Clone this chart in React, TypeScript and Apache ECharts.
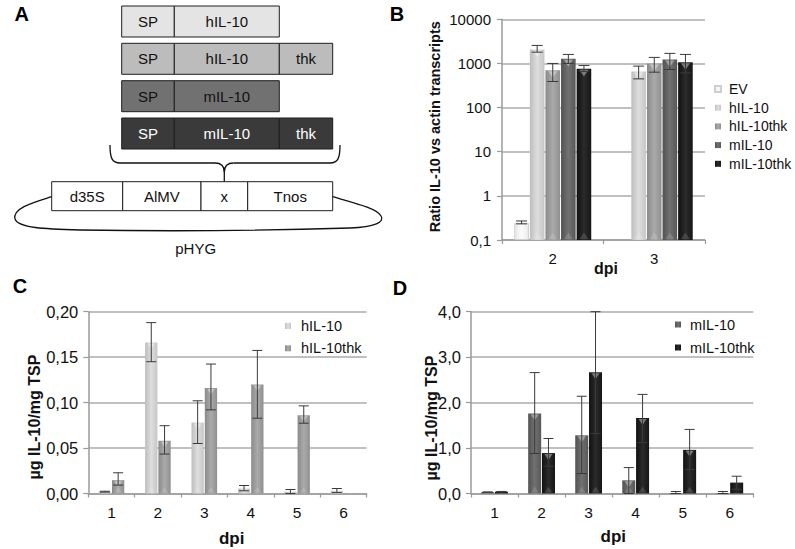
import React, { useEffect, useRef } from "react";
import * as echarts from "echarts";

// ---------- Data ----------
const seriesNamesB = ["EV", "hIL-10", "hIL-10thk", "mIL-10", "mIL-10thk"];
const categoriesB = ["2", "3"];
const evB = [0.245, null];
const evBLo = [0.232, null];
const evBHi = [0.27, null];
const hil10B = [2080, 660];
const hil10BLo = [1800, 447];
const hil10BHi = [2560, 870];
const hil10thkB = [705, 1000];
const hil10thkBLo = [390, 634];
const hil10thkBHi = [1000, 1370];
const mil10B = [1270, 1230];
const mil10BLo = [1000, 730];
const mil10BHi = [1600, 1690];
const mil10thkB = [755, 1070];
const mil10thkBLo = [660, 610];
const mil10thkBHi = [900, 1600];

const categoriesCD = ["1", "2", "3", "4", "5", "6"];
const hil10C = [0.002, 0.166, 0.078, 0.0055, 0.002, 0.003];
const hil10CLo = [0.0015, 0.145, 0.055, 0.003, 0.0, 0.001];
const hil10CHi = [0.0025, 0.188, 0.102, 0.0088, 0.0044, 0.0055];
const hil10thkC = [0.0147, 0.058, 0.116, 0.12, 0.086, 0.0005];
const hil10thkCLo = [0.0092, 0.0434, 0.092, 0.0828, 0.0773, null];
const hil10thkCHi = [0.0228, 0.0746, 0.1424, 0.1574, 0.0964, null];

const mil10D = [0.03, 1.76, 1.28, 0.29, 0.01, 0.01];
const mil10DLo = [0.025, 0.88, 0.44, 0.0, 0.0, 0.0];
const mil10DHi = [0.035, 2.66, 2.14, 0.57, 0.044, 0.044];
const mil10thkD = [0.04, 0.89, 2.67, 1.66, 0.96, 0.24];
const mil10thkDLo = [0.035, 0.6, 1.32, 1.12, 0.53, 0.095];
const mil10thkDHi = [0.045, 1.21, 4.0, 2.18, 1.41, 0.38];

const ticksB = [0.1, 1, 10, 100, 1000, 10000];

// ---------- Styles ----------
const FONT = '"Liberation Sans", Arial, Helvetica, sans-serif';
const grad = (a: string, b: string, c: string) =>
  new echarts.graphic.LinearGradient(0, 0, 1, 0, [
    { offset: 0, color: a },
    { offset: 0.5, color: b },
    { offset: 1, color: c },
  ]);
const colors: Record<string, string[]> = {
  EV: ["#e8e8e8", "#fbfbfb", "#ececec"],
  "hIL-10": ["#bdbdbd", "#dedede", "#c6c6c6"],
  "hIL-10thk": ["#8a8a8a", "#aaaaaa", "#909090"],
  "mIL-10": ["#525252", "#717171", "#585858"],
  "mIL-10thk": ["#111111", "#2b2b2b", "#161616"],
};

function barSeries(name: string, data: (number | null)[], xi: number, bw: number, gap: string) {
  const c = colors[name];
  return {
    type: "bar",
    name,
    xAxisIndex: xi,
    yAxisIndex: xi,
    data: data.map((v) => (v == null ? "-" : v)),
    barWidth: bw,
    barGap: gap,
    itemStyle: {
      color: grad(c[0], c[1], c[2]),
      borderColor: name === "EV" ? "#cfcfcf" : undefined,
      borderWidth: name === "EV" ? 1 : 0,
    },
    z: 2,
  };
}

// Excel-style highlight triangles at the top and base of each bar
function shineSeries(
  id: string,
  vals: (number | null)[],
  base: number,
  xi: number,
  slot: number,
  n: number,
  pitch: number,
  bw: number
) {
  const data: number[][] = [];
  vals.forEach((v, i) => {
    if (v != null) data.push([i, v]);
  });
  return {
    type: "custom",
    name: id,
    xAxisIndex: xi,
    yAxisIndex: xi,
    z: 5,
    silent: true,
    data,
    renderItem: (params: any, api: any) => {
      const x = api.value(0);
      const top = api.coord([x, api.value(1)]);
      const bot = api.coord([x, base]);
      const cx = top[0] + (slot - (n - 1) / 2) * pitch;
      const hgt = bot[1] - top[1];
      if (hgt < 12) return null;
      const w = bw * 0.62;
      const h = bw * 0.45;
      return {
        type: "group",
        children: [
          {
            type: "polygon",
            shape: { points: [[cx - w / 2, top[1] + 1], [cx + w / 2, top[1] + 1], [cx, top[1] + 1 + h]] },
            style: { fill: "rgba(255,255,255,0.38)" },
          },
          {
            type: "polygon",
            shape: { points: [[cx - w / 2, bot[1] - 1], [cx + w / 2, bot[1] - 1], [cx, bot[1] - 1 - h]] },
            style: { fill: "rgba(255,255,255,0.14)" },
          },
        ],
      };
    },
  };
}

function errSeries(
  id: string,
  lo: (number | null)[],
  hi: (number | null)[],
  xi: number,
  slot: number,
  n: number,
  pitch: number,
  cap: number
) {
  const data: number[][] = [];
  lo.forEach((l, i) => {
    const h = hi[i];
    if (l != null && h != null) data.push([i, l, h]);
  });
  return {
    type: "custom",
    name: id,
    xAxisIndex: xi,
    yAxisIndex: xi,
    z: 10,
    silent: true,
    data,
    encode: { x: 0, y: [1, 2] },
    renderItem: (params: any, api: any) => {
      const x = api.value(0);
      const pHi = api.coord([x, api.value(2)]);
      const pLo = api.coord([x, api.value(1)]);
      const cx = pHi[0] + (slot - (n - 1) / 2) * pitch;
      const st = { stroke: "#3a3a3a", lineWidth: 1 };
      return {
        type: "group",
        children: [
          { type: "line", shape: { x1: cx, y1: pHi[1], x2: cx, y2: pLo[1] }, style: st },
          { type: "line", shape: { x1: cx - cap / 2, y1: pHi[1], x2: cx + cap / 2, y2: pHi[1] }, style: st },
          { type: "line", shape: { x1: cx - cap / 2, y1: pLo[1], x2: cx + cap / 2, y2: pLo[1] }, style: st },
        ],
      };
    },
  };
}

const axisLineStyle = { lineStyle: { color: "#9a9a9a", width: 1.5 } };
const splitLineStyle = { show: true, lineStyle: { color: "#ababab", width: 1.5 } };

function txt(text: string, x: number, y: number, font: string, fill = "#111", rot = 0) {
  return {
    type: "text",
    x,
    y,
    rotation: rot,
    silent: true,
    style: {
      text,
      x: 0,
      y: 0,
      font,
      fill,
      align: "center",
      verticalAlign: "middle",
      textAlign: "center",
      textVerticalAlign: "middle",
    },
  };
}
function rect(x: number, y: number, w: number, h: number, fill: string) {
  return {
    type: "rect",
    silent: true,
    shape: { x, y, width: w, height: h },
    style: { fill, stroke: "#1e1e1e", lineWidth: 1 },
  };
}
function bez(x1: number, y1: number, cpx1: number, cpy1: number, cpx2: number, cpy2: number, x2: number, y2: number) {
  return {
    type: "bezierCurve",
    silent: true,
    shape: { x1, y1, x2, y2, cpx1, cpy1, cpx2, cpy2 },
    style: { stroke: "#111", fill: "none", lineWidth: 1.3 },
  };
}
function ln(x1: number, y1: number, x2: number, y2: number) {
  return {
    type: "line",
    silent: true,
    shape: { x1, y1, x2, y2 },
    style: { stroke: "#111", lineWidth: 1.3 },
  };
}

// Panel A diagram description
const rowsA = [
  { fill: "#e4e4e4", text: "#111", mid: "hIL-10", thk: false },
  { fill: "#bcbcbc", text: "#111", mid: "hIL-10", thk: true },
  { fill: "#717171", text: "#111", mid: "mIL-10", thk: false },
  { fill: "#3a3a3a", text: "#ffffff", mid: "mIL-10", thk: true },
];
const rowTops = [6, 43.3, 80.7, 118];
const cassette = ["d35S", "AlMV", "x", "Tnos"];
const cassetteX = [51.7, 122.7, 201, 247.7, 332.7];

function buildPanelA() {
  const els: any[] = [];
  const f15 = `15px ${FONT}`;
  rowsA.forEach((r, i) => {
    const y = rowTops[i];
    const h = 31;
    els.push(rect(121.7, y, 52.6, h, r.fill));
    els.push(rect(174.3, y, 105, h, r.fill));
    els.push(txt("SP", 148, y + h / 2, f15, r.text));
    els.push(txt(r.mid, 226.8, y + h / 2, f15, r.text));
    if (r.thk) {
      els.push(rect(279.3, y, 53.4, h, r.fill));
      els.push(txt("thk", 306, y + h / 2, f15, r.text));
    }
  });
  // brace
  els.push(bez(110, 145, 110, 158, 112, 163, 120, 163));
  els.push(ln(120, 163, 215, 163));
  els.push(bez(215, 163, 221, 163, 224.3, 166, 224.3, 172));
  els.push(bez(233.6, 163, 227.6, 163, 224.3, 166, 224.3, 172));
  els.push(ln(224.3, 172, 224.3, 181.7));
  els.push(ln(233.6, 163, 330, 163));
  els.push(bez(330, 163, 338, 163, 340, 158, 340, 145));
  // cassette
  cassette.forEach((c, i) => {
    const x0 = cassetteX[i];
    const x1 = cassetteX[i + 1];
    els.push(rect(x0, 181.7, x1 - x0, 29, "#ffffff"));
    els.push(txt(c, (x0 + x1) / 2, 196.2, f15, "#111"));
  });
  // plasmid loop
  els.push(bez(51.7, 196.7, 35, 202, 12, 208, 15, 219));
  els.push(bez(15, 219, 18, 228, 45, 229, 80, 230));
  els.push(bez(80, 230, 170, 231.5, 270, 230.5, 350, 228));
  els.push(bez(350, 228, 375, 227, 385, 222, 381, 216));
  els.push(bez(381, 216, 377, 208, 350, 202, 332.7, 196.7));
  els.push(txt("pHYG", 195.7, 248.3, f15, "#111"));
  return els;
}

export default function App() {
  const ref = useRef<HTMLDivElement>(null);
  useEffect(() => {
    if (!ref.current) return;
    const chart = echarts.init(ref.current, undefined, { renderer: "svg" });

    const bwB = 14.6, gapB = 1;
    const bwC = 12.3, gapC = 1;
    const bwD = 13, gapD = 0.8;

    const dataB = [evB, hil10B, hil10thkB, mil10B, mil10thkB];
    const loB = [evBLo, hil10BLo, hil10thkBLo, mil10BLo, mil10thkBLo];
    const hiB = [evBHi, hil10BHi, hil10thkBHi, mil10BHi, mil10thkBHi];

    const series: any[] = [];
    seriesNamesB.forEach((n, i) => {
      series.push(barSeries(n, dataB[i], 0, bwB, ((gapB / bwB) * 100).toFixed(1) + "%"));
    });
    seriesNamesB.forEach((n, i) => {
      if (n !== "EV") series.push(shineSeries("shB" + i, dataB[i], ticksB[0], 0, i, 5, bwB + gapB, bwB));
      series.push(errSeries("errB" + i, loB[i], hiB[i], 0, i, 5, bwB + gapB, 11));
    });
    series.push(barSeries("hIL-10", hil10C, 1, bwC, ((gapC / bwC) * 100).toFixed(1) + "%"));
    series.push(barSeries("hIL-10thk", hil10thkC, 1, bwC, ((gapC / bwC) * 100).toFixed(1) + "%"));
    series.push(shineSeries("shC0", hil10C, 0, 1, 0, 2, bwC + gapC, bwC));
    series.push(shineSeries("shC1", hil10thkC, 0, 1, 1, 2, bwC + gapC, bwC));
    series.push(errSeries("errC0", hil10CLo, hil10CHi, 1, 0, 2, bwC + gapC, 10));
    series.push(errSeries("errC1", hil10thkCLo, hil10thkCHi, 1, 1, 2, bwC + gapC, 10));
    series.push(barSeries("mIL-10", mil10D, 2, bwD, ((gapD / bwD) * 100).toFixed(1) + "%"));
    series.push(barSeries("mIL-10thk", mil10thkD, 2, bwD, ((gapD / bwD) * 100).toFixed(1) + "%"));
    series.push(shineSeries("shD0", mil10D, 0, 2, 0, 2, bwD + gapD, bwD));
    series.push(shineSeries("shD1", mil10thkD, 0, 2, 1, 2, bwD + gapD, bwD));
    series.push(errSeries("errD0", mil10DLo, mil10DHi, 2, 0, 2, bwD + gapD, 10));
    series.push(errSeries("errD1", mil10thkDLo, mil10thkDHi, 2, 1, 2, bwD + gapD, 10));

    const xAxisCommon = {
      type: "category",
      axisLine: axisLineStyle,
      axisTick: { show: true, length: 4, lineStyle: { color: "#9a9a9a", width: 1.2 } },
      splitLine: { show: false },
    };
    const yTick = { show: true, length: 5, lineStyle: { color: "#9a9a9a", width: 1.2 } };

    const legendCommon = {
      orient: "vertical",
      icon: "rect",
      itemWidth: 6,
      itemHeight: 6,
      selectedMode: false,
      padding: 0,
    };

    const option: any = {
      animation: false,
      backgroundColor: "#ffffff",
      textStyle: { fontFamily: FONT },
      grid: [
        { left: 502, right: 90, top: 19.3, bottom: 309 },
        { left: 88.3, right: 428.3, top: 311.7, bottom: 55.5 },
        { left: 471, right: 41.7, top: 311.7, bottom: 55.5 },
      ],
      xAxis: [
        {
          ...xAxisCommon,
          gridIndex: 0,
          data: categoriesB,
          axisLabel: { fontSize: 15, color: "#111", margin: 11 },
        },
        {
          ...xAxisCommon,
          gridIndex: 1,
          data: categoriesCD,
          axisLabel: { fontSize: 15.5, color: "#111", margin: 11 },
        },
        {
          ...xAxisCommon,
          gridIndex: 2,
          data: categoriesCD,
          axisLabel: { fontSize: 15.5, color: "#111", margin: 11 },
        },
      ],
      yAxis: [
        {
          type: "log",
          gridIndex: 0,
          logBase: 10,
          min: ticksB[0],
          max: ticksB[ticksB.length - 1],
          startValue: ticksB[0],
          splitNumber: 5,
          axisLine: { show: true, ...axisLineStyle },
          axisTick: yTick,
          splitLine: splitLineStyle,
          axisLabel: {
            fontSize: 15,
            color: "#111",
            margin: 11,
            formatter: (v: number) => String(v).replace(".", ","),
          },
        },
        {
          type: "value",
          gridIndex: 1,
          min: 0,
          max: 0.2,
          interval: 0.05,
          axisLine: { show: true, ...axisLineStyle },
          axisTick: yTick,
          splitLine: splitLineStyle,
          axisLabel: {
            fontSize: 16.5,
            color: "#111",
            margin: 10,
            formatter: (v: number) => v.toFixed(2).replace(".", ","),
          },
        },
        {
          type: "value",
          gridIndex: 2,
          min: 0,
          max: 4,
          interval: 1,
          axisLine: { show: true, ...axisLineStyle },
          axisTick: yTick,
          splitLine: splitLineStyle,
          axisLabel: {
            fontSize: 16.5,
            color: "#111",
            margin: 10,
            formatter: (v: number) => v.toFixed(1).replace(".", ","),
          },
        },
      ],
      legend: [
        {
          ...legendCommon,
          data: seriesNamesB,
          left: 714,
          top: 82,
          itemGap: 4.7,
          textStyle: { fontSize: 14, color: "#111", lineHeight: 14, padding: [0, 0, 0, 3] },
        },
        {
          ...legendCommon,
          data: ["hIL-10", "hIL-10thk"],
          left: 285,
          top: 318.5,
          itemGap: 7.3,
          textStyle: { fontSize: 14.5, color: "#111", lineHeight: 14.5, padding: [0, 0, 0, 5] },
        },
        {
          ...legendCommon,
          data: ["mIL-10", "mIL-10thk"],
          left: 675,
          top: 317,
          itemGap: 8,
          textStyle: { fontSize: 14.5, color: "#111", lineHeight: 14.5, padding: [0, 0, 0, 4] },
        },
      ],
      graphic: [
        ...buildPanelA(),
        txt("A", 21.7, 13.5, `bold 20px ${FONT}`, "#000"),
        txt("B", 397, 13.5, `bold 20px ${FONT}`, "#000"),
        txt("C", 20, 285.7, `bold 20px ${FONT}`, "#000"),
        txt("D", 400, 287.5, `bold 20px ${FONT}`, "#000"),
        txt("Ratio IL-10 vs actin transcripts", 434.5, 126.7, `bold 14.5px ${FONT}`, "#111", Math.PI / 2),
        txt("µg IL-10/mg TSP", 34.5, 417, `bold 16px ${FONT}`, "#111", Math.PI / 2),
        txt("µg IL-10/mg TSP", 431, 418, `bold 16px ${FONT}`, "#111", Math.PI / 2),
        txt("dpi", 606, 268, `bold 16px ${FONT}`, "#111"),
        txt("dpi", 231.7, 538, `bold 17px ${FONT}`, "#111"),
        txt("dpi", 613.3, 536.7, `bold 17px ${FONT}`, "#111"),
      ],
      series,
    };
    chart.setOption(option);
    return () => chart.dispose();
  }, []);
  return (
    <div
      ref={ref}
      style={{ position: "absolute", left: 0, top: 0, width: 795, height: 549, background: "#fff" }}
    />
  );
}
